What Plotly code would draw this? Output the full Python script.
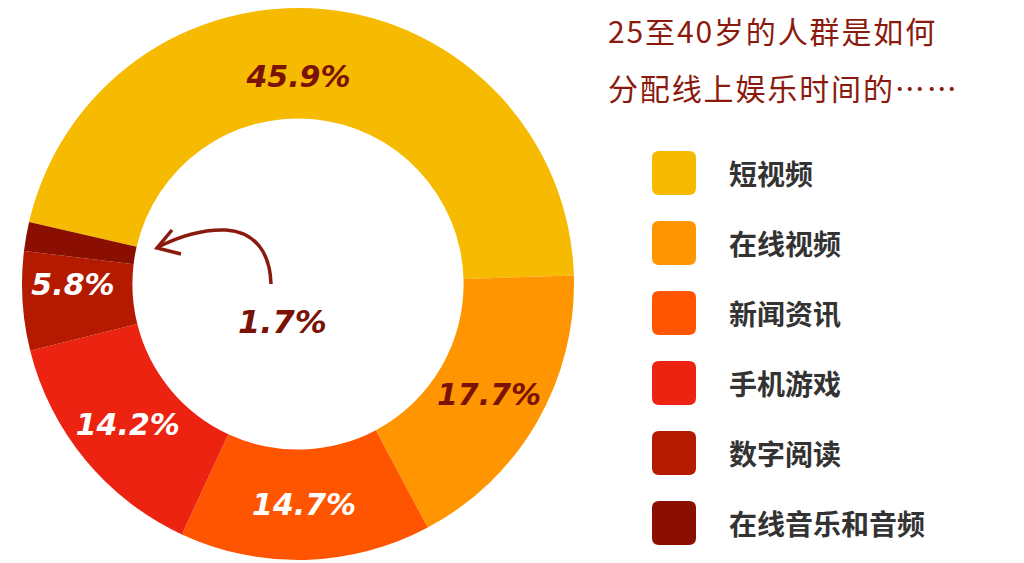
import plotly.graph_objects as go

categories = ["短视频", "在线视频", "新闻资讯", "手机游戏", "数字阅读", "在线音乐和音频"]
values = [45.9, 17.7, 14.7, 14.2, 5.8, 1.7]
colors = ["#F6BA00", "#FF9500", "#FF5500", "#ED2311", "#B31A00", "#8A0F00"]
label_colors = ["#7A1206", "#7A1206", "#FFFFFF", "#FFFFFF", "#FFFFFF", "#FFFFFF"]
title_lines = ["25至40岁的人群是如何", "分配线上娱乐时间的……"]

OFF = 8  # default page margin of the html body
W, H = 1024 - OFF, 563 - OFF
DARK = "#8B1A0E"


def px(x, y):
    """page pixel -> paper coordinates"""
    return (x - OFF) / W, 1 - (y - OFF) / H


texts = [f"{v}%" for v in values]
texts[-1] = ""  # smallest slice is labelled in the hole with an arrow

cx, cy, r = 298, 284, 276
dx0, _ = px(cx - r, 0)
dx1, _ = px(cx + r, 0)
_, dy0 = px(0, cy + r)

fig = go.Figure()
fig.add_trace(go.Pie(
    labels=categories,
    values=values,
    text=texts,
    textinfo="text",
    textposition="inside",
    insidetextorientation="horizontal",
    textfont=dict(family="DejaVu Sans", size=30, color=label_colors,
                  style="italic", weight="bold"),
    marker=dict(colors=colors, line=dict(width=0)),
    hole=0.6,
    sort=False,
    direction="clockwise",
    rotation=-77,
    domain=dict(x=[dx0, dx1], y=[max(dy0, 0), 1]),
    showlegend=False,
    hoverinfo="label+percent",
))

shapes = []
annotations = []

# title
for i, line in enumerate(title_lines):
    x0, y0 = px(606, 30 + i * 57)
    annotations.append(dict(
        x=x0, y=y0, xref="paper", yref="paper", xanchor="left", yanchor="middle",
        text="\u200a".join(line), showarrow=False,
        font=dict(family="Noto Sans CJK SC", size=30, color=DARK),
    ))


def rounded_rect(xl, yt, xr, yb, rad):
    def p(x, y):
        a, b = px(x, y)
        return f"{a:.5f},{b:.5f}"
    return (f"M {p(xl + rad, yt)} L {p(xr - rad, yt)} Q {p(xr, yt)} {p(xr, yt + rad)} "
            f"L {p(xr, yb - rad)} Q {p(xr, yb)} {p(xr - rad, yb)} "
            f"L {p(xl + rad, yb)} Q {p(xl, yb)} {p(xl, yb - rad)} "
            f"L {p(xl, yt + rad)} Q {p(xl, yt)} {p(xl + rad, yt)} Z")


# custom legend
for i, (cat, col) in enumerate(zip(categories, colors)):
    ly = 173 + i * 70
    shapes.append(dict(
        type="path", xref="paper", yref="paper",
        path=rounded_rect(652, ly - 22, 696, ly + 22, 7),
        fillcolor=col, line=dict(width=0), layer="above",
    ))
    tx, ty = px(727, ly)
    annotations.append(dict(
        x=tx, y=ty, xref="paper", yref="paper", xanchor="left", yanchor="middle",
        text=f"<b>{cat}</b>", showarrow=False,
        font=dict(family="Noto Sans CJK SC", size=28, color="#333333"),
    ))

# 1.7% label and curved arrow
lx, ly = px(282, 322)
annotations.append(dict(
    x=lx, y=ly, xref="paper", yref="paper", xanchor="center", yanchor="middle",
    text=f"{values[-1]}%", showarrow=False,
    font=dict(family="DejaVu Sans", size=32, color="#7A1206", style="italic", weight="bold"),
))


def pt(x, y):
    a, b = px(x, y)
    return f"{a:.5f},{b:.5f}"


curve = (f"M {pt(271, 284)} C {pt(270, 252)} {pt(255, 232)} {pt(226, 230)} "
         f"C {pt(203, 229)} {pt(178, 237)} {pt(158, 247)}")
head = f"M {pt(172, 230)} L {pt(157, 248)} L {pt(181, 254)}"
for p in (curve, head):
    shapes.append(dict(type="path", xref="paper", yref="paper", path=p,
                       line=dict(color=DARK, width=3.5)))

fig.update_layout(
    width=W, height=H,
    margin=dict(l=0, r=0, t=0, b=0),
    paper_bgcolor="white",
    plot_bgcolor="white",
    shapes=shapes,
    annotations=annotations,
)

fig.write_html("out.html")
